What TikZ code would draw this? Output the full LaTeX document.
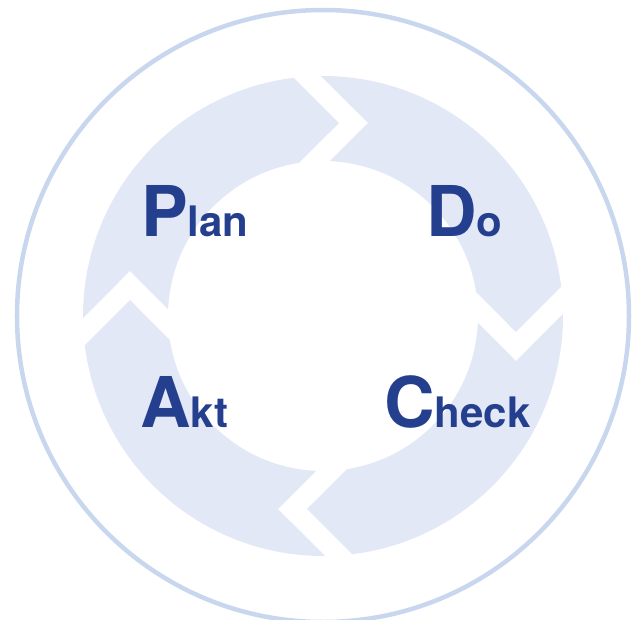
\documentclass[tikz,border=0pt]{standalone}
\usepackage{fontspec}
\setmainfont{TeX Gyre Heros}
\usepackage{tikz}

\definecolor{ringfill}{HTML}{E2E8F6}
\definecolor{rimline}{HTML}{C8D7EE}
\definecolor{phase}{HTML}{243F8E}

\newcommand{\initial}[1]{{\fontsize{70}{70}\selectfont #1}}

\tikzset{
	ring/.style={fill=ringfill},
	rim/.style={draw=rimline, line width=4.5pt},
	phasetext/.style={text=phase, inner sep=0pt, anchor=base west,
		font=\fontsize{42}{42}\selectfont\bfseries}
}

\begin{document}
\begin{tikzpicture}[x=1pt,y=1pt]

		\useasboundingbox (-323,-303) rectangle (314,316);

		\draw[rim] (0,0) circle [radius=306pt];

		% four arrow pieces, one per quarter
		\foreach \a in {0,90,180,270}
			\fill[ring, rotate=\a] (90.5:240pt) arc [start angle=90.5, end angle=7, radius=240pt]
				-- (-4.74:193.66pt) -- (8.87:155pt)
				arc [start angle=8.87, end angle=87.5, radius=155pt]
				-- (76.87:198.2pt) -- cycle;

		\node[phasetext] (plan) at (-182,80) {\initial{P}lan};
		\node[phasetext] (do) at (103,80) {\initial{D}o};
		\node[phasetext] (akt) at (-183,-111) {\initial{A}kt};
		\node[phasetext] (check) at (61,-111) {\initial{C}heck};
	\end{tikzpicture}
\end{document}
